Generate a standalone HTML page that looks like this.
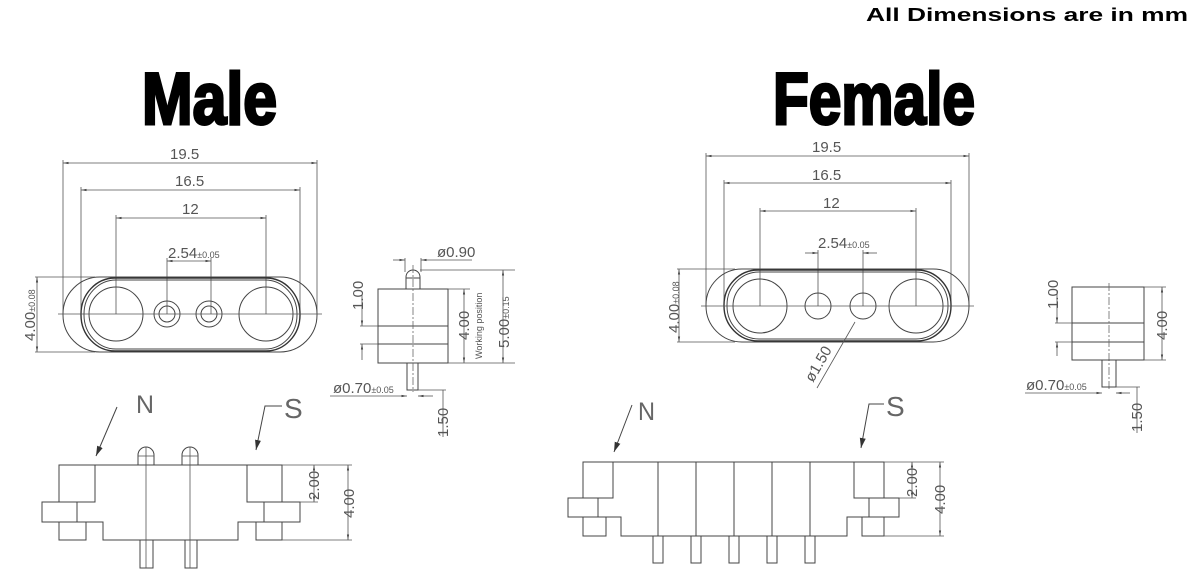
<!DOCTYPE html>
<html><head><meta charset="utf-8"><style>
html,body{margin:0;padding:0;background:#fff;}
svg{display:block;}
.l{stroke:#444;stroke-width:1;fill:none;}
.t{stroke:#333;stroke-width:1.4;fill:none;}
.d{stroke:#555;stroke-width:0.8;fill:none;}
.c{stroke:#666;stroke-width:0.8;fill:none;stroke-dasharray:8 2 2 2;}
text.dim{font-family:"Liberation Sans",sans-serif;fill:#555;font-size:15px;}
text.sm{font-family:"Liberation Sans",sans-serif;fill:#555;font-size:9px;}
</style></head><body>
<svg width="1200" height="588" viewBox="0 0 1200 588" xmlns="http://www.w3.org/2000/svg">
<defs>
<marker id="a" viewBox="0 0 10 10" refX="10" refY="5" markerWidth="7" markerHeight="7" orient="auto-start-reverse"><path d="M0,3 L10,5 L0,7 z" fill="#444"/></marker>
<marker id="b" viewBox="0 0 10 10" refX="10" refY="5" markerWidth="10" markerHeight="10" orient="auto"><path d="M0,2 L10,5 L0,8 z" fill="#333"/></marker>
</defs>

<text x="866" y="21" font-family="Liberation Sans, sans-serif" font-weight="bold" font-size="18" textLength="322" lengthAdjust="spacingAndGlyphs" fill="#000">All Dimensions are in mm</text>
<text x="142" y="124" font-family="Liberation Sans Narrow, Liberation Sans, sans-serif" font-weight="bold" font-size="73" textLength="135" lengthAdjust="spacingAndGlyphs" fill="#000" stroke="#000" stroke-width="3">Male</text>
<text x="773" y="124" font-family="Liberation Sans Narrow, Liberation Sans, sans-serif" font-weight="bold" font-size="73" textLength="202" lengthAdjust="spacingAndGlyphs" fill="#000" stroke="#000" stroke-width="3">Female</text>

<!-- MALE TOP VIEW -->
<g>
<line class="d" x1="63" y1="163" x2="317" y2="163" marker-start="url(#a)" marker-end="url(#a)"/>
<text class="dim" x="170" y="159">19.5</text>
<line class="d" x1="81" y1="190" x2="300" y2="190" marker-start="url(#a)" marker-end="url(#a)"/>
<text class="dim" x="175" y="186">16.5</text>
<line class="d" x1="116" y1="218" x2="266" y2="218" marker-start="url(#a)" marker-end="url(#a)"/>
<text class="dim" x="182" y="214">12</text>
<line class="d" x1="167" y1="261" x2="211" y2="261" marker-start="url(#a)" marker-end="url(#a)"/>
<text class="dim" x="168" y="258">2.54<tspan font-size="9">±0.05</tspan></text>
<line class="d" x1="63" y1="160" x2="63" y2="314"/>
<line class="d" x1="317" y1="160" x2="317" y2="314"/>
<line class="d" x1="81" y1="187" x2="81" y2="314"/>
<line class="d" x1="300" y1="187" x2="300" y2="314"/>
<line class="d" x1="116" y1="215" x2="116" y2="314"/>
<line class="d" x1="266" y1="215" x2="266" y2="314"/>
<line class="d" x1="167" y1="258" x2="167" y2="314"/>
<line class="d" x1="211" y1="258" x2="211" y2="314"/>
<rect class="l" x="63" y="277" width="254" height="75" rx="37" ry="37"/>
<rect class="t" x="81" y="278" width="219" height="73" rx="34" ry="36"/>
<rect class="l" x="84" y="280" width="213" height="69" rx="32" ry="34"/>
<circle class="l" cx="116" cy="314" r="27"/>
<circle class="l" cx="266" cy="314" r="27"/>
<circle class="l" cx="167" cy="314" r="13"/>
<circle class="l" cx="167" cy="314" r="8"/>
<circle class="l" cx="209" cy="314" r="13"/>
<circle class="l" cx="209" cy="314" r="8"/>
<line class="d" x1="58" y1="314" x2="322" y2="314"/>
<line class="d" x1="35" y1="277" x2="95" y2="277"/>
<line class="d" x1="35" y1="352" x2="95" y2="352"/>
<line class="d" x1="37" y1="277" x2="37" y2="352" marker-start="url(#a)" marker-end="url(#a)"/>
<text class="dim" transform="translate(35,341) rotate(-90)">4.00<tspan font-size="9">±0.08</tspan></text>
</g>

<!-- MALE SIDE VIEW -->
<g>
<rect class="l" x="378" y="289" width="70" height="74"/>
<line class="l" x1="378" y1="326" x2="448" y2="326"/>
<line class="l" x1="378" y1="344" x2="448" y2="344"/>
<path class="l" d="M406,289 L406,277 A7,7 0 0 1 420,277 L420,289"/>
<line class="l" x1="406" y1="278" x2="420" y2="278"/>
<rect class="l" x="407" y="363" width="11" height="27"/>
<line class="c" x1="413" y1="265" x2="413" y2="392"/>
<line class="d" x1="393" y1="260" x2="405" y2="260" marker-end="url(#a)"/>
<line class="d" x1="421" y1="260" x2="472" y2="260" marker-start="url(#a)"/>
<line class="d" x1="405" y1="258" x2="405" y2="272"/>
<line class="d" x1="421" y1="258" x2="421" y2="272"/>
<text class="dim" x="437" y="257">ø0.90</text>
<line class="d" x1="420" y1="270" x2="515" y2="270"/>
<line class="d" x1="448" y1="363" x2="515" y2="363"/>
<line class="d" x1="448" y1="289" x2="470" y2="289"/>
<line class="d" x1="503" y1="270" x2="503" y2="363" marker-start="url(#a)" marker-end="url(#a)"/>
<line class="d" x1="464" y1="289" x2="464" y2="363" marker-start="url(#a)" marker-end="url(#a)"/>
<text class="dim" transform="translate(509,348) rotate(-90)">5.00<tspan font-size="9">±0.15</tspan></text>
<text class="dim" transform="translate(469,340) rotate(-90)">4.00</text>
<text class="sm" transform="translate(482,359) rotate(-90)">Working position</text>
<line class="d" x1="360" y1="326" x2="378" y2="326"/>
<line class="d" x1="360" y1="344" x2="378" y2="344"/>
<line class="d" x1="362" y1="295" x2="362" y2="326" marker-end="url(#a)"/>
<line class="d" x1="362" y1="360" x2="362" y2="344" marker-end="url(#a)"/>
<text class="dim" transform="translate(363,310) rotate(-90)">1.00</text>
<line class="d" x1="330" y1="396" x2="407" y2="396" marker-end="url(#a)"/>
<line class="d" x1="433" y1="396" x2="418" y2="396" marker-end="url(#a)"/>
<text class="dim" x="333" y="393">ø0.70<tspan font-size="9">±0.05</tspan></text>
<line class="d" x1="418" y1="390" x2="446" y2="390"/>
<line class="d" x1="443" y1="390" x2="443" y2="437"/>
<text class="dim" transform="translate(448,437) rotate(-90)">1.50</text>
</g>

<!-- MALE FRONT VIEW -->
<g>
<line class="l" x1="59" y1="465" x2="282" y2="465"/>
<rect class="l" x="59" y="465" width="36" height="37"/>
<rect class="l" x="42" y="502" width="35" height="20"/>
<rect class="l" x="59" y="522" width="27" height="18"/>
<rect class="l" x="247" y="465" width="35" height="37"/>
<rect class="l" x="264" y="502" width="36" height="20"/>
<rect class="l" x="256" y="522" width="26" height="18"/>
<polyline class="l" points="77,522 103,522 103,540 238,540 238,522 264,522"/>
<path class="l" d="M138,465 L138,455 A8,8 0 0 1 154,455 L154,465"/>
<line class="d" x1="138" y1="456" x2="154" y2="456"/>
<path class="l" d="M182,465 L182,455 A8,8 0 0 1 198,455 L198,465"/>
<line class="d" x1="182" y1="456" x2="198" y2="456"/>
<rect class="l" x="140" y="540" width="13" height="28"/>
<rect class="l" x="185" y="540" width="12" height="28"/>
<line class="d" x1="146" y1="447" x2="146" y2="568"/>
<line class="d" x1="190" y1="447" x2="190" y2="568"/>
<line class="d" x1="282" y1="465" x2="352" y2="465"/>
<line class="d" x1="300" y1="502" x2="318" y2="502"/>
<line class="d" x1="282" y1="540" x2="352" y2="540"/>
<line class="d" x1="314" y1="465" x2="314" y2="502" marker-start="url(#a)" marker-end="url(#a)"/>
<line class="d" x1="348" y1="465" x2="348" y2="540" marker-start="url(#a)" marker-end="url(#a)"/>
<text class="dim" transform="translate(319,500) rotate(-90)">2.00</text>
<text class="dim" transform="translate(354,518) rotate(-90)">4.00</text>
<text x="136" y="413" font-family="Liberation Sans, sans-serif" font-size="25" fill="#666" textLength="18" lengthAdjust="spacingAndGlyphs">N</text>
<line class="l" x1="117" y1="407" x2="96" y2="456" marker-end="url(#b)"/>
<text x="284" y="418" font-family="Liberation Sans, sans-serif" font-size="28" fill="#666">S</text>
<polyline class="l" points="282,406 265,406 256,450" marker-end="url(#b)"/>
</g>

<!-- FEMALE TOP VIEW -->
<g>
<line class="d" x1="706" y1="156" x2="969" y2="156" marker-start="url(#a)" marker-end="url(#a)"/>
<text class="dim" x="812" y="152">19.5</text>
<line class="d" x1="724" y1="183" x2="951" y2="183" marker-start="url(#a)" marker-end="url(#a)"/>
<text class="dim" x="812" y="180">16.5</text>
<line class="d" x1="760" y1="211" x2="916" y2="211" marker-start="url(#a)" marker-end="url(#a)"/>
<text class="dim" x="823" y="208">12</text>
<line class="d" x1="805" y1="253" x2="818" y2="253" marker-end="url(#a)"/>
<line class="d" x1="877" y1="253" x2="863" y2="253" marker-end="url(#a)"/>
<text class="dim" x="818" y="248">2.54<tspan font-size="9">±0.05</tspan></text>
<line class="d" x1="706" y1="153" x2="706" y2="306"/>
<line class="d" x1="969" y1="153" x2="969" y2="306"/>
<line class="d" x1="724" y1="180" x2="724" y2="306"/>
<line class="d" x1="951" y1="180" x2="951" y2="306"/>
<line class="d" x1="760" y1="208" x2="760" y2="306"/>
<line class="d" x1="916" y1="208" x2="916" y2="306"/>
<line class="d" x1="818" y1="250" x2="818" y2="306"/>
<line class="d" x1="863" y1="250" x2="863" y2="306"/>
<rect class="l" x="706" y="269" width="263" height="73" rx="36" ry="36"/>
<rect class="t" x="724" y="270" width="227" height="71" rx="34" ry="35"/>
<rect class="l" x="727" y="272" width="221" height="67" rx="32" ry="33"/>
<circle class="l" cx="760" cy="306" r="27"/>
<circle class="l" cx="916" cy="306" r="27"/>
<circle class="l" cx="818" cy="306" r="13"/>
<circle class="l" cx="863" cy="306" r="13"/>
<line class="d" x1="701" y1="306" x2="974" y2="306"/>
<line class="d" x1="677" y1="269" x2="735" y2="269"/>
<line class="d" x1="677" y1="342" x2="735" y2="342"/>
<line class="d" x1="679" y1="269" x2="679" y2="342" marker-start="url(#a)" marker-end="url(#a)"/>
<text class="dim" transform="translate(679,333) rotate(-90)">4.00<tspan font-size="9">±0.08</tspan></text>
<line class="d" x1="855" y1="322" x2="817" y2="388"/>
<text class="dim" transform="translate(813,383) rotate(-60)">ø1.50</text>
</g>

<!-- FEMALE SIDE VIEW -->
<g>
<rect class="l" x="1072" y="287" width="72" height="73"/>
<line class="l" x1="1072" y1="323" x2="1144" y2="323"/>
<line class="l" x1="1072" y1="342" x2="1144" y2="342"/>
<line class="c" x1="1109" y1="283" x2="1109" y2="390"/>
<rect class="l" x="1102" y="360" width="14" height="27"/>
<line class="d" x1="1144" y1="287" x2="1166" y2="287"/>
<line class="d" x1="1144" y1="360" x2="1166" y2="360"/>
<line class="d" x1="1162" y1="287" x2="1162" y2="360" marker-start="url(#a)" marker-end="url(#a)"/>
<text class="dim" transform="translate(1167,340) rotate(-90)">4.00</text>
<line class="d" x1="1055" y1="323" x2="1072" y2="323"/>
<line class="d" x1="1055" y1="342" x2="1072" y2="342"/>
<line class="d" x1="1057" y1="290" x2="1057" y2="323" marker-end="url(#a)"/>
<line class="d" x1="1057" y1="356" x2="1057" y2="342" marker-end="url(#a)"/>
<text class="dim" transform="translate(1058,309) rotate(-90)">1.00</text>
<line class="d" x1="1025" y1="393" x2="1102" y2="393" marker-end="url(#a)"/>
<line class="d" x1="1130" y1="393" x2="1116" y2="393" marker-end="url(#a)"/>
<text class="dim" x="1026" y="390">ø0.70<tspan font-size="9">±0.05</tspan></text>
<line class="d" x1="1116" y1="387" x2="1140" y2="387"/>
<line class="d" x1="1137" y1="387" x2="1137" y2="433"/>
<text class="dim" transform="translate(1142,432) rotate(-90)">1.50</text>
</g>

<!-- FEMALE FRONT VIEW -->
<g>
<line class="l" x1="583" y1="462" x2="884" y2="462"/>
<rect class="l" x="583" y="462" width="30" height="36"/>
<rect class="l" x="568" y="498" width="30" height="19"/>
<rect class="l" x="583" y="517" width="23" height="19"/>
<rect class="l" x="854" y="462" width="30" height="36"/>
<rect class="l" x="869" y="498" width="30" height="19"/>
<rect class="l" x="862" y="517" width="22" height="19"/>
<polyline class="l" points="598,517 621,517 621,536 847,536 847,517 869,517"/>
<g class="l">
<line x1="658" y1="462" x2="658" y2="536"/><line x1="696" y1="462" x2="696" y2="536"/><line x1="734" y1="462" x2="734" y2="536"/><line x1="772" y1="462" x2="772" y2="536"/><line x1="810" y1="462" x2="810" y2="536"/>
<rect x="653" y="536" width="10" height="27"/><rect x="691" y="536" width="10" height="27"/><rect x="729" y="536" width="10" height="27"/><rect x="767" y="536" width="10" height="27"/><rect x="805" y="536" width="10" height="27"/>
</g>
<line class="d" x1="884" y1="462" x2="944" y2="462"/>
<line class="d" x1="899" y1="498" x2="916" y2="498"/>
<line class="d" x1="884" y1="536" x2="944" y2="536"/>
<line class="d" x1="912" y1="462" x2="912" y2="498" marker-start="url(#a)" marker-end="url(#a)"/>
<line class="d" x1="940" y1="462" x2="940" y2="536" marker-start="url(#a)" marker-end="url(#a)"/>
<text class="dim" transform="translate(917,497) rotate(-90)">2.00</text>
<text class="dim" transform="translate(945,514) rotate(-90)">4.00</text>
<text x="638" y="420" font-family="Liberation Sans, sans-serif" font-size="25" fill="#666" textLength="17" lengthAdjust="spacingAndGlyphs">N</text>
<line class="l" x1="632" y1="405" x2="614" y2="452" marker-end="url(#b)"/>
<text x="886" y="416" font-family="Liberation Sans, sans-serif" font-size="28" fill="#666">S</text>
<polyline class="l" points="884,404 869,404 861,448" marker-end="url(#b)"/>
</g>
</svg>
</body></html>
